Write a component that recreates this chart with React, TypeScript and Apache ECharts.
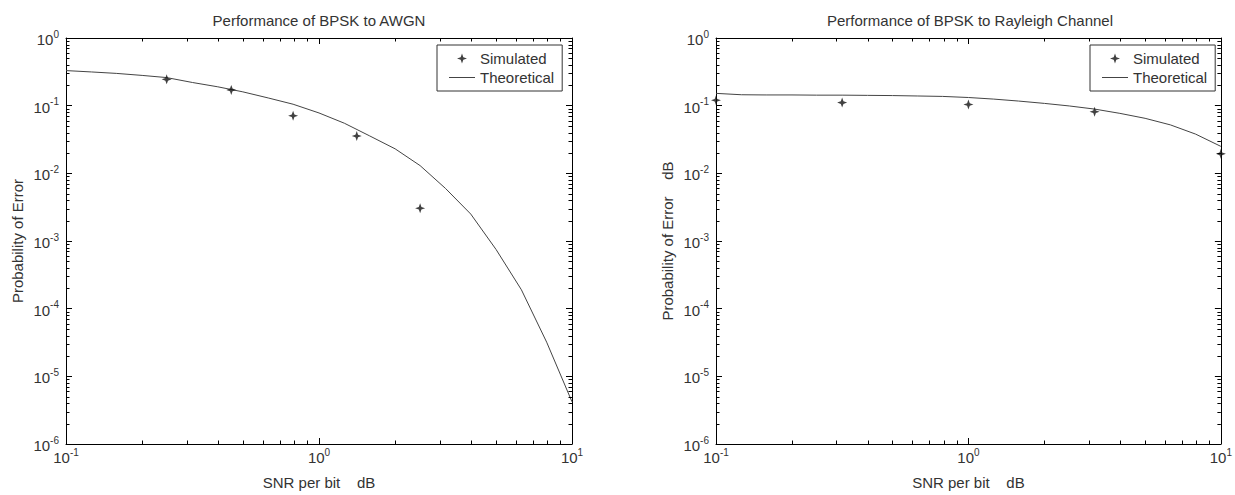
import React, { useEffect, useRef } from "react";
import * as echarts from "echarts";

// ---- data ----
const awgnSimX = [0.25, 0.45, 0.79, 1.41, 2.51];
const awgnSimY = [0.245, 0.171, 0.071, 0.0357, 0.00305];

const theoX = [0.1, 0.126, 0.158, 0.2, 0.25, 0.316, 0.398, 0.5, 0.63, 0.79, 1.0, 1.26, 1.58, 2.0, 2.51, 3.16, 3.98, 5.01, 6.31, 7.94, 10];
const awgnTheoY = [0.33, 0.315, 0.3, 0.28, 0.26, 0.22, 0.19, 0.16, 0.13, 0.105, 0.078, 0.055, 0.036, 0.023, 0.013, 0.006, 0.0025, 0.00075, 0.00019, 0.000032, 0.0000042];

const raySimX = [0.1, 0.316, 1, 3.16, 10];
const raySimY = [0.12, 0.111, 0.104, 0.0815, 0.0194];
const rayTheoY = [0.152, 0.145, 0.144, 0.144, 0.143, 0.143, 0.142, 0.141, 0.139, 0.137, 0.132, 0.125, 0.117, 0.108, 0.099, 0.089, 0.077, 0.065, 0.052, 0.038, 0.025];

const titles = ["Performance of BPSK to AWGN", "Performance of BPSK to Rayleigh Channel"];
const yNames = ["Probability of Error", "Probability of Error    dB"];
const xName = "SNR per bit    dB";
const seriesNames = ["Simulated", "Theoretical"];

// tick positions
const xDecades = [0.1, 1];
const yDecades = [1e-6, 1e-5, 1e-4, 1e-3, 1e-2, 1e-1];
const minorMult = [2, 3, 4, 5, 6, 7, 8, 9];

const FONT = "'Liberation Sans', Arial, Helvetica, sans-serif";
const TXT = "#333";
const FS = 15;
const STAR = "path://M5,0 L6.3,3.7 L10,5 L6.3,6.3 L5,10 L3.7,6.3 L0,5 L3.7,3.7 Z";
const LINE_ICON = "path://M0,0 L40,0 L40,1.6 L0,1.6 Z";

const grids = [
  { left: 66, top: 38, width: 506, height: 407 },
  { left: 716, top: 38, width: 508, height: 407 },
];
const legendPos = [
  { left: 437, top: 45 },
  { left: 1090, top: 45 },
];

const zip = (xs: number[], ys: number[]) => xs.map((x, i) => [x, ys[i]]);

const rich = {
  b: { fontSize: FS, fontFamily: FONT, color: TXT, verticalAlign: "bottom" },
  s: { fontSize: 10, fontFamily: FONT, color: TXT, verticalAlign: "bottom", padding: [0, 0, 8, 0] },
};
const supLabel = (v: number) => `{b|10}{s|${Math.round(Math.log10(v))}}`;

const axisLine = { show: true, onZero: false, lineStyle: { color: "#000", width: 1 } };
const axisTick = { show: true, inside: true, length: 6, lineStyle: { color: "#000", width: 1 } };

function mkX(g: number, pos: "bottom" | "top") {
  return {
    type: "log",
    logBase: 10,
    gridIndex: g,
    position: pos,
    min: 0.1,
    max: 10,
    axisLine,
    axisTick,
    splitLine: { show: false },
    axisLabel:
      pos === "bottom"
        ? { show: true, formatter: supLabel, rich, margin: 3, showMinLabel: true, showMaxLabel: true }
        : { show: false },
    name: pos === "bottom" ? xName : "",
    nameLocation: "middle",
    nameGap: 31,
    nameTextStyle: { fontSize: FS, fontFamily: FONT, color: TXT },
  };
}
function mkY(g: number, pos: "left" | "right") {
  return {
    type: "log",
    logBase: 10,
    gridIndex: g,
    position: pos,
    min: 1e-6,
    max: 1,
    axisLine,
    axisTick,
    splitLine: { show: false },
    axisLabel:
      pos === "left"
        ? { show: true, formatter: supLabel, rich, margin: 7, showMinLabel: true, showMaxLabel: true }
        : { show: false },
    name: pos === "left" ? yNames[g] : "",
    nameLocation: "middle",
    nameGap: 41,
    nameTextStyle: { fontSize: FS, fontFamily: FONT, color: TXT },
  };
}

const xMinor = xDecades.flatMap((d) => minorMult.map((m) => d * m));
const yMinor = yDecades.flatMap((d) => minorMult.map((m) => d * m));
const minorData = [...xMinor.map((v) => [v, 1, 0]), ...yMinor.map((v) => [1, v, 1])];

function minorTicks(g: number) {
  return {
    type: "custom",
    xAxisIndex: g * 2,
    yAxisIndex: g * 2,
    data: minorData,
    encode: { x: 0, y: 1 },
    silent: true,
    clip: false,
    z: 5,
    renderItem: (params: any, api: any) => {
      const cs = params.coordSys;
      const L = 3.5;
      const st = { stroke: "#000", lineWidth: 1 };
      if (api.value(2) === 0) {
        const px = Math.round(api.coord([api.value(0), 1])[0]) + 0.5;
        return {
          type: "group",
          children: [
            { type: "line", shape: { x1: px, y1: cs.y + cs.height, x2: px, y2: cs.y + cs.height - L }, style: st },
            { type: "line", shape: { x1: px, y1: cs.y, x2: px, y2: cs.y + L }, style: st },
          ],
        };
      }
      const py = Math.round(api.coord([1, api.value(1)])[1]) + 0.5;
      return {
        type: "group",
        children: [
          { type: "line", shape: { x1: cs.x, y1: py, x2: cs.x + L, y2: py }, style: st },
          { type: "line", shape: { x1: cs.x + cs.width, y1: py, x2: cs.x + cs.width - L, y2: py }, style: st },
        ],
      };
    },
  };
}

function mkSeries(g: number, simX: number[], simY: number[], thY: number[]) {
  return [
    {
      name: seriesNames[0],
      type: "scatter",
      xAxisIndex: g * 2,
      yAxisIndex: g * 2,
      data: zip(simX, simY),
      symbol: STAR,
      symbolSize: 10,
      itemStyle: { color: "#111" },
      clip: false,
      z: 4,
    },
    {
      name: seriesNames[1],
      type: "line",
      xAxisIndex: g * 2,
      yAxisIndex: g * 2,
      data: zip(theoX, thY),
      symbol: "none",
      lineStyle: { color: "#444", width: 1 },
      itemStyle: { color: "#444" },
      z: 3,
    },
  ];
}

const option: any = {
  animation: false,
  backgroundColor: "#fff",
  textStyle: { fontFamily: FONT },
  title: grids.map((gr, i) => ({
    text: titles[i],
    left: gr.left + gr.width / 2,
    top: 13,
    textAlign: "center",
    padding: 0,
    textStyle: { fontSize: FS, fontWeight: "normal", fontFamily: FONT, color: TXT },
  })),
  legend: legendPos.map((p) => ({
    left: p.left,
    top: p.top,
    orient: "vertical",
    data: [
      { name: seriesNames[0], icon: STAR },
      { name: seriesNames[1], icon: LINE_ICON },
    ],
    selectedMode: false,
    itemWidth: 26,
    itemHeight: 10,
    itemGap: 4,
    padding: [6, 8, 6, 12],
    borderColor: "#333",
    borderWidth: 1,
    backgroundColor: "#fff",
    textStyle: { fontSize: FS, fontFamily: FONT, color: TXT },
  })),
  grid: grids.map((g) => ({ ...g, containLabel: false })),
  xAxis: [mkX(0, "bottom"), mkX(0, "top"), mkX(1, "bottom"), mkX(1, "top")],
  yAxis: [mkY(0, "left"), mkY(0, "right"), mkY(1, "left"), mkY(1, "right")],
  series: [
    ...mkSeries(0, awgnSimX, awgnSimY, awgnTheoY),
    ...mkSeries(1, raySimX, raySimY, rayTheoY),
    minorTicks(0),
    minorTicks(1),
  ],
};

export default function App() {
  const ref = useRef<HTMLDivElement>(null);
  useEffect(() => {
    const chart = echarts.init(ref.current!, null, { renderer: "svg" });
    chart.setOption(option);
    return () => chart.dispose();
  }, []);
  return (
    <div
      ref={ref}
      style={{ position: "fixed", left: 0, top: 0, width: 1235, height: 495, background: "#fff" }}
    />
  );
}
